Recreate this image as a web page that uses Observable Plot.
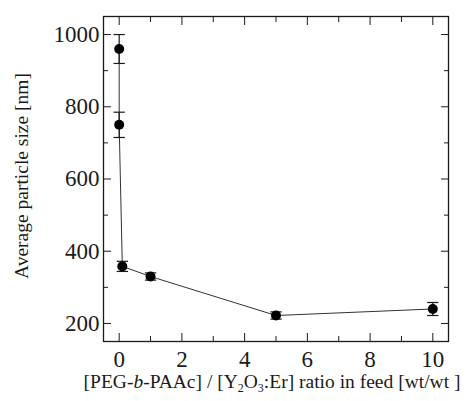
<!DOCTYPE html>
<html>
<head>
<meta charset="utf-8">
<script src="https://cdn.jsdelivr.net/npm/d3@7"></script>
<script src="https://cdn.jsdelivr.net/npm/@observablehq/plot@0.6"></script>
<style>
  html, body { margin: 0; padding: 0; background: #fff; }
  #chart { width: 469px; height: 401px; }
</style>
</head>
<body>
<div id="chart"></div>
<script>
// Data
const ratio = [0, 0, 0.1, 1, 5, 10];
const size = [960, 750, 358, 330, 222, 240];
const err = [40, 35, 14, 10, 10, 18];

const xMajor = [0, 2, 4, 6, 8, 10];
const xMinor = [1, 3, 5, 7, 9];
const yMajor = [200, 400, 600, 800, 1000];
const yMinor = [300, 500, 700, 900];

const xLabelParts = [
  {t: "[PEG-"}, {t: "b", it: true}, {t: "-PAAc] / [Y"}, {t: "2", sub: true},
  {t: "O"}, {t: "3", sub: true}, {t: ":Er] ratio in feed [wt/wt ]"}
];
const yLabel = "Average particle size [nm]";

const data = ratio.map((x, i) => ({x, y: size[i], e: err[i]}));

const cap = {
  draw(context, size) {
    const w = Math.sqrt(size);
    context.moveTo(-w, 0);
    context.lineTo(w, 0);
  }
};

const ink = "#1a1a1a";
const font = "Liberation Serif";

const chart = Plot.plot({
  width: 469,
  height: 401,
  marginLeft: 103,
  marginRight: 21,
  marginTop: 16,
  marginBottom: 60,
  style: {color: ink, background: "#fff", fontFamily: font},
  x: {domain: [-0.5, 10.5]},
  y: {domain: [150, 1050]},
  marks: [
    Plot.frame({stroke: ink, strokeWidth: 1.3}),
    Plot.axisX({ticks: xMajor, anchor: "bottom", tickSize: -8, tickFormat: () => "", stroke: ink, label: null}),
    Plot.axisX({ticks: xMajor, anchor: "top", tickSize: -8, tickFormat: () => "", stroke: ink, label: null}),
    Plot.axisX({ticks: xMinor, anchor: "bottom", tickSize: -5, tickFormat: () => "", stroke: ink, label: null}),
    Plot.axisX({ticks: xMinor, anchor: "top", tickSize: -5, tickFormat: () => "", stroke: ink, label: null}),
    Plot.axisY({ticks: yMajor, anchor: "left", tickSize: -8, tickFormat: () => "", stroke: ink, label: null}),
    Plot.axisY({ticks: yMajor, anchor: "right", tickSize: -8, tickFormat: () => "", stroke: ink, label: null}),
    Plot.axisY({ticks: yMinor, anchor: "left", tickSize: -5, tickFormat: () => "", stroke: ink, label: null}),
    Plot.axisY({ticks: yMinor, anchor: "right", tickSize: -5, tickFormat: () => "", stroke: ink, label: null}),
    Plot.axisX({ticks: xMajor, anchor: "bottom", tickSize: 0, tickPadding: 9, fontSize: 23, fontFamily: font, fill: ink, label: null, tickFormat: d3.format("d")}),
    Plot.axisY({ticks: yMajor, anchor: "left", tickSize: 0, tickPadding: 4, fontSize: 23, fontFamily: font, fill: ink, label: null, tickFormat: d3.format("d")}),
    Plot.line(data, {x: "x", y: "y", stroke: "#333", strokeWidth: 1}),
    Plot.ruleX(data, {x: "x", y1: d => d.y - d.e, y2: d => d.y + d.e, stroke: ink, strokeWidth: 1.2}),
    Plot.dot(data, {x: "x", y: d => d.y + d.e, symbol: cap, r: 3.2, stroke: ink, strokeWidth: 1.2}),
    Plot.dot(data, {x: "x", y: d => d.y - d.e, symbol: cap, r: 3.2, stroke: ink, strokeWidth: 1.2}),
    Plot.dot(data, {x: "x", y: "y", r: 5, fill: "#000", stroke: "none"})
  ]
});

const svg = d3.select(chart);
const xt = svg.append("text")
  .attr("x", 272).attr("y", 388)
  .attr("text-anchor", "middle")
  .attr("font-size", 19.5).attr("fill", ink);
let prevSub = false;
for (const p of xLabelParts) {
  const s = xt.append("tspan").text(p.t);
  if (p.it) s.attr("font-style", "italic");
  if (p.sub) s.attr("font-size", 12).attr("dy", 4);
  else if (prevSub) s.attr("dy", -4);
  prevSub = !!p.sub;
}

svg.append("text")
  .attr("transform", "translate(28,176) rotate(-90)")
  .attr("text-anchor", "middle")
  .attr("font-size", 19.5).attr("fill", ink)
  .text(yLabel);

svg.selectAll("text, g").attr("font-family", font).style("font-family", font);

document.getElementById("chart").appendChild(chart);
</script>
</body>
</html>
